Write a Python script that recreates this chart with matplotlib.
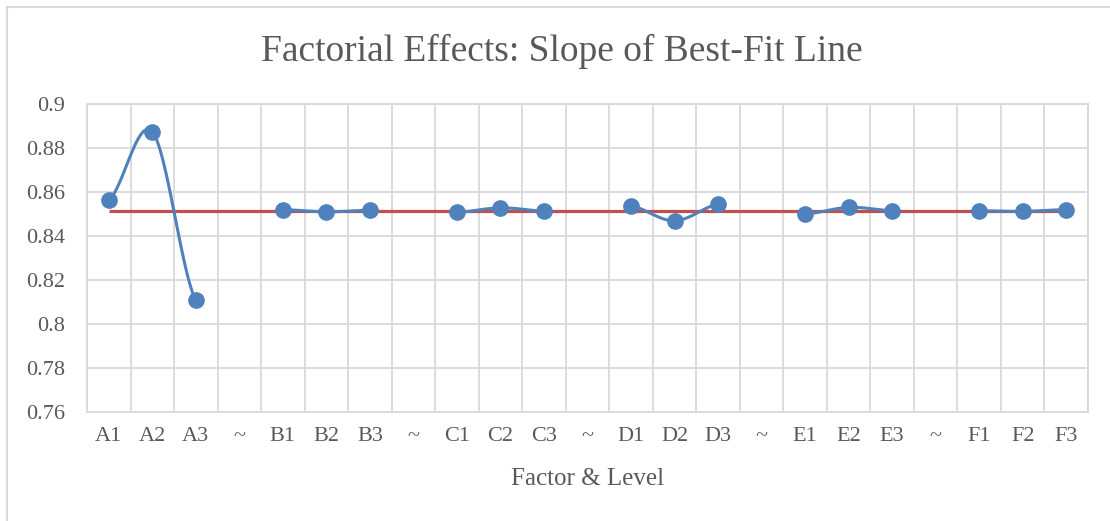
import numpy as np
import matplotlib
matplotlib.use("Agg")
import matplotlib.pyplot as plt
from matplotlib.patches import Rectangle

categories = ["A1", "A2", "A3", "~", "B1", "B2", "B3", "~", "C1", "C2", "C3", "~",
              "D1", "D2", "D3", "~", "E1", "E2", "E3", "~", "F1", "F2", "F3"]
slope = [0.8563, 0.8874, 0.8107, None,
         0.8520, 0.8510, 0.8517, None,
         0.8507, 0.8528, 0.8513, None,
         0.8537, 0.8469, 0.8545, None,
         0.8499, 0.8530, 0.8515, None,
         0.8515, 0.8512, 0.8520]
overall = [0.8514] * len(categories)
yticks = [0.76, 0.78, 0.80, 0.82, 0.84, 0.86, 0.88, 0.90]
ytick_labels = ["0.76", "0.78", "0.8", "0.82", "0.84", "0.86", "0.88", "0.9"]

BLUE = "#4F81BD"
RED = "#C0504D"
GRID = "#D9D9D9"
TXT = "#595959"

plt.rcParams['font.family'] = ['Liberation Serif', 'DejaVu Serif']

W, H = 1110, 521
fig = plt.figure(figsize=(W / 100, H / 100), dpi=100)
ax = fig.add_axes([87 / W, 1 - 412 / H, (1088 - 87) / W, (412 - 104) / H])

# chart border (partially visible)
fig.patches.append(Rectangle((7 / W, -0.1), 1.2, (1 - 7 / H) + 0.1, transform=fig.transFigure,
                             fill=False, edgecolor=GRID, linewidth=1.5))


def catmull_rom(xs, ys, n=30):
    xs = np.asarray(xs, float)
    ys = np.asarray(ys, float)
    if len(xs) < 2:
        return xs, ys
    px = np.concatenate([[2 * xs[0] - xs[1]], xs, [2 * xs[-1] - xs[-2]]])
    py = np.concatenate([[ys[0]], ys, [ys[-1]]])
    outx, outy = [], []
    for i in range(1, len(px) - 2):
        p0, p1, p2, p3 = (np.array([px[i - 1], py[i - 1]]), np.array([px[i], py[i]]),
                          np.array([px[i + 1], py[i + 1]]), np.array([px[i + 2], py[i + 2]]))
        c1 = p1 + (p2 - p0) / 6
        c2 = p2 - (p3 - p1) / 6
        t = np.linspace(0, 1, n)[:, None]
        b = ((1 - t) ** 3) * p1 + 3 * ((1 - t) ** 2) * t * c1 + 3 * (1 - t) * t ** 2 * c2 + t ** 3 * p2
        outx.extend(b[:, 0]); outy.extend(b[:, 1])
    return np.array(outx), np.array(outy)


x = np.arange(len(categories))

# red constant line
ax.plot(x, overall, color=RED, linewidth=2.3, zorder=3, solid_capstyle='butt')

# smoothed blue segments, split at gaps
seg_x, seg_y = [], []
for i, v in enumerate(slope + [None]):
    if v is None:
        if seg_x:
            sx, sy = catmull_rom(seg_x, seg_y)
            ax.plot(sx, sy, color=BLUE, linewidth=2.2, zorder=4)
        seg_x, seg_y = [], []
    else:
        seg_x.append(x[i]); seg_y.append(v)

mx = [x[i] for i, v in enumerate(slope) if v is not None]
my = [v for v in slope if v is not None]
ax.plot(mx, my, linestyle='none', marker='o', markersize=11, color=BLUE,
        markeredgecolor=BLUE, zorder=5)

ax.set_xlim(-0.5, len(categories) - 0.5)
ax.set_ylim(0.76, 0.90)
ax.set_yticks(yticks)
ax.set_yticklabels(ytick_labels)
ax.set_xticks(x)
ax.set_xticklabels(categories)

ax.grid(False)
for yv in yticks:
    ax.axhline(yv, color=GRID, linewidth=1.3, zorder=1)
for xv in np.arange(len(categories) + 1) - 0.5:
    ax.axvline(xv, color=GRID, linewidth=1.3, zorder=1)

for s in ax.spines.values():
    s.set_color(GRID)
    s.set_linewidth(1.3)

ax.tick_params(axis='both', which='both', length=0, colors=TXT, labelsize=16)
ax.tick_params(axis='y', pad=16)
ax.tick_params(axis='x', pad=11)

ax.set_xlabel("Factor & Level", fontsize=18, color=TXT, va='center')
ax.xaxis.set_label_coords(0.5, (412 - 479) / (412 - 104))
fig.text(562 / W, 1 - 51 / H, "Factorial Effects: Slope of Best-Fit Line",
         ha='center', va='center', fontsize=27, color=TXT)

fig.savefig("out.png", dpi=100)
